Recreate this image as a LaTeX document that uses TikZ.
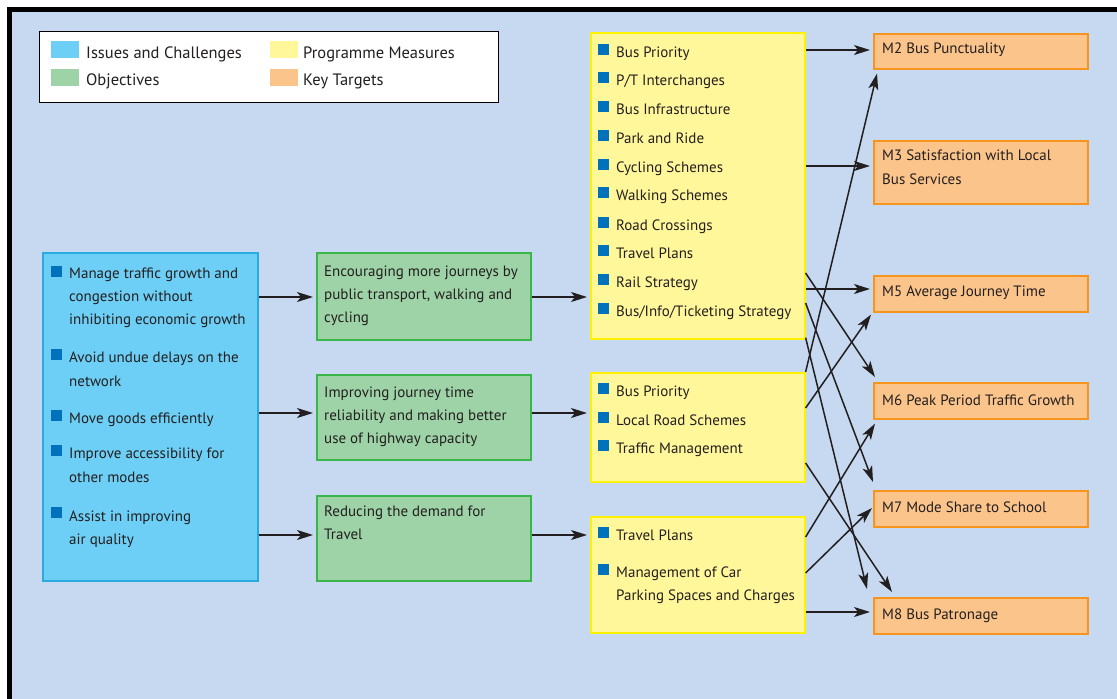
\documentclass[tikz,border=0pt]{standalone}
\usepackage{fontspec}
\setmainfont{PT Sans}
\usetikzlibrary{arrows.meta,calc}
\definecolor{bgblue}{HTML}{C6D9F0}
\definecolor{ink}{HTML}{231F20}
\definecolor{cyanfill}{HTML}{6DCFF6}
\definecolor{cyanline}{HTML}{29ABE2}
\definecolor{greenfill}{HTML}{9DD3A6}
\definecolor{greenline}{HTML}{39B54A}
\definecolor{yellowfill}{HTML}{FFF799}
\definecolor{yellowline}{HTML}{FFF200}
\definecolor{orangefill}{HTML}{FBC48A}
\definecolor{orangeline}{HTML}{F7941D}
\definecolor{bulletblue}{HTML}{0072BC}
\begin{document}
\begin{tikzpicture}[x=1pt,y=-1pt,
  font=\fontsize{15}{17}\selectfont,
  txt/.style={anchor=base west, inner sep=0pt, text=ink},
  legtxt/.style={txt, font=\fontsize{16.5}{18}\selectfont},
  bul/.style={fill=bulletblue, minimum size=11pt, inner sep=0pt, anchor=north west},
  box/.style={line width=1.6pt, anchor=north west, inner sep=0pt},
  issuebox/.style={box, draw=cyanline, fill=cyanfill},
  objbox/.style={box, draw=greenline, fill=greenfill},
  measbox/.style={box, draw=yellowline, fill=yellowfill},
  tgtbox/.style={box, draw=orangeline, fill=orangefill, minimum width=214pt},
  arr/.style={draw=ink, line width=1.5pt, -{Stealth[length=16pt,width=10pt,inset=4pt]}},
  swatch/.style={inner sep=0pt, minimum width=28pt, minimum height=17pt, anchor=north west}
]
\useasboundingbox (0,0) rectangle (1117,699);
% frame
\fill[white] (0,0) rectangle (1117,699);
\fill[bgblue] (12,12) rectangle (1117,699);
\fill[black] (7,7) rectangle (1117,12);
\fill[black] (7,7) rectangle (12,699);

% legend
\node[draw=black, line width=1pt, fill=white, anchor=north west, inner sep=0pt,
      minimum width=459pt, minimum height=71pt] (legend) at (39,31) {};
\node[swatch, fill=cyanfill] (sw1) at (51,41) {};
\node[swatch, fill=greenfill] (sw2) at (51,69) {};
\node[swatch, fill=yellowfill] (sw3) at (270,41) {};
\node[swatch, fill=orangefill] (sw4) at (270,69) {};
\node[legtxt] (lg1) at (86,58) {Issues and Challenges};
\node[legtxt] (lg2) at (86,85) {Objectives};
\node[legtxt] (lg3) at (303,58) {Programme Measures};
\node[legtxt] (lg4) at (303,85) {Key Targets};

% issues box
\node[issuebox, minimum width=215pt, minimum height=328pt] (I) at (42,252) {};
\node[bul] (ib1) at (51,266) {};
\node[bul] (ib2) at (51,349) {};
\node[bul] (ib3) at (51,410) {};
\node[bul] (ib4) at (51,445) {};
\node[bul] (ib5) at (51,507) {};
\node[txt] (it1) at (69,278) {Manage traffic growth and};
\node[txt] (it2) at (69,301) {congestion without};
\node[txt] (it3) at (69,324) {inhibiting economic growth};
\node[txt] (it4) at (69,362) {Avoid undue delays on the};
\node[txt] (it5) at (69,386) {network};
\node[txt] (it6) at (69,423) {Move goods efficiently};
\node[txt] (it7) at (69,458) {Improve accessibility for};
\node[txt] (it8) at (69,482) {other modes};
\node[txt] (it9) at (69,521) {Assist in improving};
\node[txt] (it10) at (69,544) {air quality};

% objectives
\node[objbox, minimum width=214pt, minimum height=87pt] (G1) at (316,252) {};
\node[objbox, minimum width=214pt, minimum height=85pt] (G2) at (316,374) {};
\node[objbox, minimum width=214pt, minimum height=85pt] (G3) at (316,495) {};
\node[txt] (gt1) at (324,276) {Encouraging more journeys by};
\node[txt] (gt2) at (324,299) {public transport, walking and};
\node[txt] (gt3) at (324,322) {cycling};
\node[txt] (gt4) at (324,397) {Improving journey time};
\node[txt] (gt5) at (324,420) {reliability and making better};
\node[txt] (gt6) at (324,443) {use of highway capacity};
\node[txt] (gt7) at (324,516) {Reducing the demand for};
\node[txt] (gt8) at (324,539) {Travel};

% programme measures
\node[measbox, minimum width=214pt, minimum height=306pt] (Y1) at (590,32) {};
\node[measbox, minimum width=214pt, minimum height=109pt] (Y2) at (590,372) {};
\node[measbox, minimum width=214pt, minimum height=116pt] (Y3) at (590,516) {};
\foreach \t/\yy [count=\i] in {Bus Priority/57, {P{/}T Interchanges}/85, Bus Infrastructure/114,
   Park and Ride/143, Cycling Schemes/172, Walking Schemes/200, Road Crossings/230,
   Travel Plans/258, Rail Strategy/287, {Bus{/}Info{/}Ticketing Strategy}/316}{
  \node[bul] (ya\i) at (598,\yy-13) {};
  \node[txt] (yat\i) at (616,\yy) {\t};
}
\foreach \t/\yy [count=\i] in {Bus Priority/396, Local Road Schemes/425, Traffic Management/453}{
  \node[bul] (yb\i) at (598,\yy-13) {};
  \node[txt] (ybt\i) at (616,\yy) {\t};
}
\node[bul] (yc1) at (598,527) {};
\node[txt] (yct1) at (616,540) {Travel Plans};
\node[bul] (yc2) at (598,564) {};
\node[txt] (yct2) at (616,577) {Management of Car};
\node[txt] (yct3) at (616,600) {Parking Spaces and Charges};

% key targets
\node[tgtbox, minimum height=35pt] (M2) at (873,33) {};
\node[tgtbox, minimum height=63pt] (M3) at (873,140) {};
\node[tgtbox, minimum height=36pt] (M5) at (873,275) {};
\node[tgtbox, minimum height=36pt] (M6) at (873,382) {};
\node[tgtbox, minimum height=36pt] (M7) at (873,490) {};
\node[tgtbox, minimum height=36pt] (M8) at (873,597) {};
\node[txt] (mt2) at (882,53) {M2 Bus Punctuality};
\node[txt] (mt3a) at (882,160) {M3 Satisfaction with Local};
\node[txt] (mt3b) at (882,184) {Bus Services};
\node[txt] (mt5) at (882,296) {M5 Average Journey Time};
\node[txt] (mt6) at (882,405) {M6 Peak Period Traffic Growth};
\node[txt] (mt7) at (882,512) {M7 Mode Share to School};
\node[txt] (mt8) at (882,619) {M8 Bus Patronage};

% connectors left part
\draw[arr] ($(I.north east)+(0,45)$) -- ($(G1.north west)+(-3,45)$);
\draw[arr] ($(I.north east)+(0,161)$) -- ($(G2.north west)+(-3,39)$);
\draw[arr] ($(I.north east)+(0,283)$) -- ($(G3.north west)+(-3,40)$);
\draw[arr] ($(G1.north east)+(0,45)$) -- ($(Y1.north west)+(-3,265)$);
\draw[arr] ($(G2.north east)+(0,39)$) -- ($(Y2.north west)+(-3,41)$);
\draw[arr] ($(G3.north east)+(0,40)$) -- ($(Y3.north west)+(-3,19)$);

% connectors right part
\draw[arr] ($(Y1.north east)+(0,18)$) -- ($(M2.north west)+(-3,17)$);
\draw[arr] ($(Y1.north east)+(0,134)$) -- ($(M3.north west)+(-3,26)$);
\draw[arr] ($(Y1.north east)+(0,257)$) -- ($(M5.north west)+(-3,14)$);
\draw[arr] ($(Y3.north east)+(0,96)$) -- ($(M8.north west)+(-3,15)$);
\draw[arr] (Y2.north east) -- ($(M2.south west)+(4,4)$);
\draw[arr] ($(Y2.north east)+(0,36)$) -- ($(M5.south west)+(-2,2)$);
\draw[arr] ($(Y1.north east)+(0,241)$) -- ($(M6.north west)+(2,-5)$);
\draw[arr] ($(Y1.north east)+(0,271)$) -- ($(M7.north west)+(0,-8)$);
\draw[arr] ($(Y1.south east)+(0,-2)$) -- ($(M8.north west)+(-6,-8)$);
\draw[arr] ($(Y2.north east)+(0,91)$) -- ($(M8.north west)+(19,-5)$);
\draw[arr] ($(Y3.north east)+(0,21)$) -- ($(M6.south west)+(2,4)$);
\draw[arr] ($(Y3.north east)+(0,57)$) -- ($(M7.north west)+(-1,18)$);
\end{tikzpicture}
\end{document}
